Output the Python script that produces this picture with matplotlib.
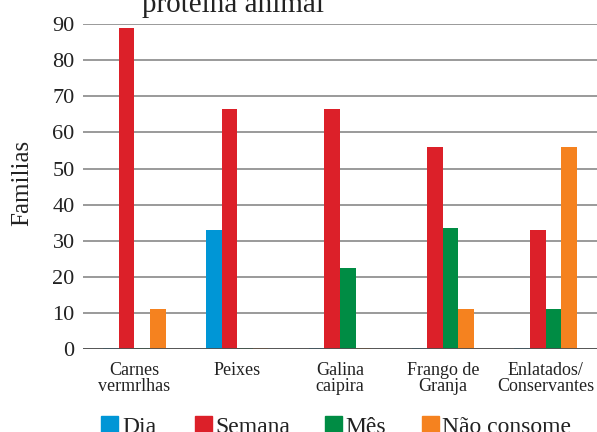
import numpy as np
import matplotlib.pyplot as plt
from matplotlib.patches import Rectangle

plt.rcParams['font.family'] = 'Liberation Serif'

categorias = ['Carnes\nvermrlhas', 'Peixes', 'Galina\ncaipira', 'Frango de\nGranja', 'Enlatados/\nConservantes']
series = ['Dia', 'Semana', 'Mês', 'Não consome']
dia = [0.3, 33, 0.3, 0.3, 0.3]
semana = [89, 66.5, 66.5, 56, 33]
mes = [0.3, 0.3, 22.5, 33.5, 11]
nao_consome = [11, 0.3, 0.3, 11, 56]
cores = ['#0096d6', '#dc2029', '#008c44', '#f5821f']

W, H = 597, 432
fig = plt.figure(figsize=(W / 100, H / 100), dpi=100)
ax = fig.add_axes([0.139, 0.192, 0.861, 0.752])

x = np.arange(len(categorias))
w = 0.152
valores = [dia, semana, mes, nao_consome]
for i, (vals, cor) in enumerate(zip(valores, cores)):
    ax.bar(x + (i - 1.5) * w, vals, width=w, color=cor, zorder=3, label=series[i])

ax.set_xlim(-0.5, len(categorias) - 0.5)
ax.set_ylim(0, 90)
ax.set_yticks(range(0, 91, 10))
ax.yaxis.grid(True, color='#9a9a9a', linewidth=1.4, zorder=0)
ax.axhline(0, color='#505050', linewidth=2, zorder=4)
for s in ax.spines.values():
    s.set_visible(False)
ax.tick_params(axis='both', length=0)
ax.tick_params(axis='y', labelsize=16, pad=6)
ax.set_xticks(x)
ax.set_xticklabels(categorias, fontsize=13, linespacing=0.95, color='#222222')
ax.tick_params(axis='x', pad=9)
for t in ax.get_yticklabels():
    t.set_color('#222222')
ax.set_ylabel('Familias', fontsize=18, color='#222222')
ax.yaxis.set_label_coords(-0.097, 0.512)

fig.text(0.39, 0.972, 'proteína animal', fontsize=21, ha='center', va='baseline', color='#222222')

# legenda manual na parte inferior
sq_x = [101, 195, 325, 422]
tx_x = [122, 215, 345, 442]
for nome, cor, sx, tx in zip(series, cores, sq_x, tx_x):
    fig.patches.append(Rectangle((sx / W, (H - 433) / H), 17 / W, 17 / H,
                                 transform=fig.transFigure, color=cor, clip_on=False))
    fig.text(tx / W, (H - 433) / H, nome, fontsize=17, ha='left', va='baseline', color='#222222')

fig.savefig('out.png', dpi=100)
